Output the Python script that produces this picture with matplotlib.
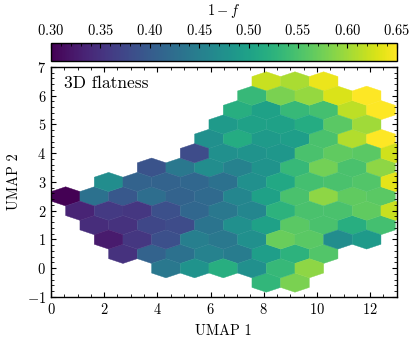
import numpy as np
import matplotlib
matplotlib.use("Agg")
import matplotlib.pyplot as plt
from matplotlib.ticker import AutoMinorLocator, MultipleLocator

plt.rcParams.update({
    "font.family": "serif",
    "font.serif": ["cmr10"],
    "mathtext.fontset": "cm",
    "axes.formatter.use_mathtext": True,
    "font.size": 10.4,
    "axes.linewidth": 1.0,
    "xtick.direction": "in",
    "ytick.direction": "in",
    "xtick.top": True,
    "ytick.right": True,
    "xtick.major.size": 3.5,
    "ytick.major.size": 3.5,
    "xtick.minor.size": 2.0,
    "ytick.minor.size": 2.0,
    "xtick.minor.visible": True,
    "ytick.minor.visible": True,
})

# ---- data: hexbin cells, row by row (UMAP 2 value of row, first column index, 1-f values)
row_umap2 = [-0.5, 0.0, 0.5, 1.0, 1.5, 2.0, 2.5, 3.0, 3.5, 4.0, 4.5, 5.0, 5.5, 6.0, 6.5]
row_first = [8, 4, 3, 2, 2, 1, 1, 2, 4, 5, 6, 6, 7, 7, 8]
row_vals = [
    [0.53, 0.58],
    [0.44, 0.48, 0.52, 0.475, 0.535, 0.59],
    [0.35, 0.41, 0.43, 0.455, 0.445, 0.495, 0.525, 0.555],
    [0.325, 0.355, 0.385, 0.45, 0.44, 0.475, 0.57, 0.56, 0.47, 0.49],
    [0.345, 0.35, 0.375, 0.38, 0.435, 0.475, 0.50, 0.56, 0.55, 0.52, 0.545],
    [0.335, 0.36, 0.355, 0.385, 0.415, 0.44, 0.46, 0.525, 0.55, 0.55, 0.565, 0.62],
    [0.30, 0.43, 0.395, 0.425, 0.41, 0.42, 0.46, 0.50, 0.55, 0.59, 0.565, 0.56],
    [0.47, 0.41, 0.41, 0.415, 0.43, 0.475, 0.51, 0.545, 0.55, 0.555, 0.635],
    [0.39, 0.44, 0.47, 0.455, 0.48, 0.535, 0.575, 0.55, 0.59],
    [0.38, 0.475, 0.48, 0.485, 0.55, 0.565, 0.56, 0.625],
    [0.475, 0.515, 0.49, 0.495, 0.55, 0.61, 0.65],
    [0.49, 0.50, 0.50, 0.515, 0.56, 0.60],
    [0.52, 0.50, 0.535, 0.545, 0.615, 0.65],
    [0.535, 0.58, 0.595, 0.63, 0.65],
    [0.62, 0.605, 0.64],
]
cbar_ticks = [0.30, 0.35, 0.40, 0.45, 0.50, 0.55, 0.60, 0.65]

# hex grid of the binning
grid_x0, grid_x1, grid_y0, grid_y1 = -0.528, 13.486, -0.5, 6.5
nx, ny = 13, 7
sx = (grid_x1 - grid_x0) / nx

umap1, umap2, flat = [], [], []
for r, (yv, i0, vals) in enumerate(zip(row_umap2, row_first, row_vals)):
    off = 0.0 if r % 2 == 0 else 0.5
    for k, v in enumerate(vals):
        umap1.append(grid_x0 + (i0 + k + off) * sx)
        umap2.append(yv)
        flat.append(v)
umap1 = np.array(umap1); umap2 = np.array(umap2); flat = np.array(flat)

fig = plt.figure(figsize=(4.16, 3.42), dpi=100)
ax = fig.add_axes([0.1226, 0.1316, 0.831, 0.6725])
cax = fig.add_axes([0.1226, 0.8225, 0.831, 0.0526])

hb = ax.hexbin(umap1, umap2, C=flat, gridsize=(nx, ny),
               extent=(grid_x0, grid_x1, grid_y0, grid_y1),
               reduce_C_function=np.mean, cmap="viridis",
               vmin=0.30, vmax=0.65, linewidths=0.3, edgecolors="face")

ax.set_xlim(0, 13)
ax.set_ylim(-1, 7)
ax.xaxis.set_major_locator(MultipleLocator(2))
ax.yaxis.set_major_locator(MultipleLocator(1))
ax.xaxis.set_minor_locator(AutoMinorLocator())
ax.yaxis.set_minor_locator(AutoMinorLocator())
ax.set_xlabel("UMAP 1", labelpad=5)
ax.set_ylabel("UMAP 2", labelpad=4)
ax.text(0.038, 0.962, "3D flatness", transform=ax.transAxes,
        ha="left", va="top", fontsize=12.5)

cb = fig.colorbar(hb, cax=cax, orientation="horizontal")
cb.set_ticks(cbar_ticks)
cb.ax.xaxis.set_ticks_position("top")
cb.ax.xaxis.set_label_position("top")
cb.ax.xaxis.set_minor_locator(MultipleLocator(0.01))
cb.ax.tick_params(which="both", direction="in", top=True, bottom=False)
cb.outline.set_linewidth(1.0)
cb.set_label(r"$1-f$", labelpad=6)

fig.savefig("out.png", dpi=100)
